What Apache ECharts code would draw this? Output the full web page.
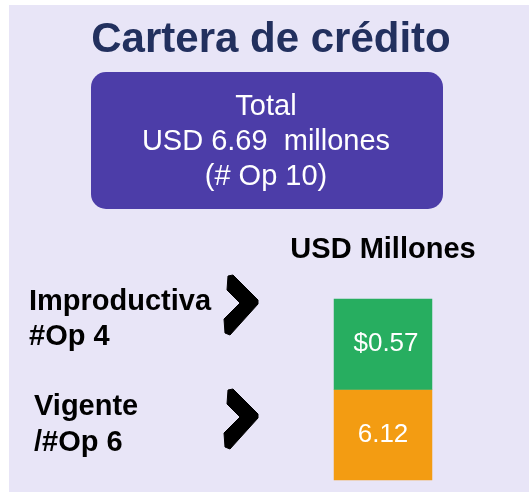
<!DOCTYPE html>
<html>
<head>
<meta charset="utf-8">
<script src="https://cdn.jsdelivr.net/npm/echarts@6/dist/echarts.min.js"></script>
<style>
html,body{margin:0;padding:0;background:#ffffff;}
#chart{width:529px;height:493px;}
</style>
</head>
<body>
<div id="chart"></div>
<script>
// Data
const title = 'Cartera de crédito';
const totalLines = ['Total', 'USD 6.69  millones', '(# Op 10)'];
const unitLabel = 'USD Millones';
const categories = ['Vigente', 'Improductiva'];
const categoryLabels = ['Vigente\n/#Op 6', 'Improductiva\n#Op 4'];
const values = [6.12, 0.57];
const valuePrefix = ['', '$'];
const colors = ['#F39C12', '#27AE60'];

const chart = echarts.init(document.getElementById('chart'), null, {renderer: 'canvas'});
const FONT = '"Liberation Sans", Arial, sans-serif';

const heatData = values.map((v, i) => ({
  value: [0, i, v],
  itemStyle: {color: colors[i]},
  label: {offset: [i === 1 ? 3 : 0, 0]}
}));

function chevron(dy) {
  const pts = [[228, 276], [233, 275], [258, 300], [258, 304], [230, 335], [225, 333],
               [224, 319], [240, 303], [227, 290]];
  return {
    type: 'polygon',
    shape: {points: pts.map(p => [p[0], p[1] + dy]), smooth: 0},
    style: {fill: '#000000', stroke: '#000000', lineWidth: 1, lineJoin: 'round'},
    z: 10
  };
}

chart.setOption({
  animation: false,
  backgroundColor: '#ffffff',
  grid: {left: 334, top: 299, width: 98, height: 181},
  xAxis: {type: 'category', data: [unitLabel], show: false},
  yAxis: {type: 'category', data: categories, show: false},
  series: [{
    type: 'heatmap',
    data: heatData,
    label: {
      show: true,
      color: '#ffffff',
      fontSize: 26,
      fontFamily: FONT,
      formatter: p => valuePrefix[p.dataIndex] + p.value[2].toFixed(2)
    },
    emphasis: {disabled: true}
  }],
  graphic: [
    {type: 'rect', shape: {x: 9, y: 5, width: 520, height: 487}, style: {fill: '#E8E5F7'}, z: -10, silent: true},
    {type: 'text', x: 271, y: 40, style: {text: title, fill: '#22305E', font: 'bold 42px ' + FONT, align: 'center', verticalAlign: 'middle'}},
    {type: 'rect', shape: {x: 91, y: 72, width: 352, height: 137, r: 15}, style: {fill: '#4C3DA8'}},
    {type: 'text', x: 266, y: 141.5, style: {text: totalLines.join('\n'), fill: '#ffffff', font: '29px ' + FONT, lineHeight: 35, align: 'center', verticalAlign: 'middle'}},
    {type: 'text', x: 383, y: 250, style: {text: unitLabel, fill: '#000000', font: 'bold 29px ' + FONT, align: 'center', verticalAlign: 'middle'}},
    {type: 'text', x: 29, y: 319, style: {text: categoryLabels[1], fill: '#000000', font: 'bold 29px ' + FONT, lineHeight: 35, align: 'left', verticalAlign: 'middle'}},
    {type: 'text', x: 34, y: 424.5, style: {text: categoryLabels[0], fill: '#000000', font: 'bold 29px ' + FONT, lineHeight: 36, align: 'left', verticalAlign: 'middle'}},
    chevron(0),
    chevron(114)
  ]
});
</script>
</body>
</html>
